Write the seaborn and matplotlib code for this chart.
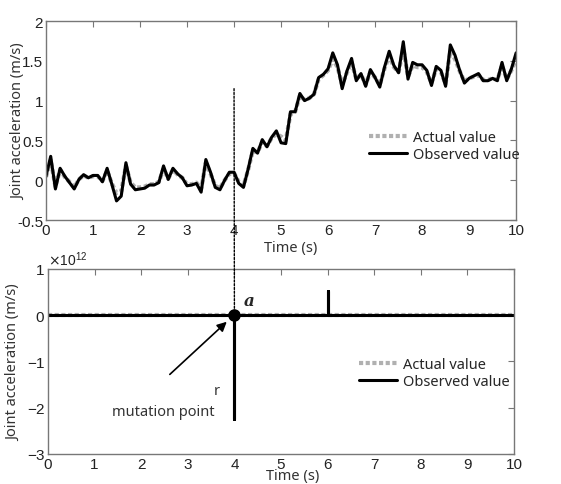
import numpy as np
import pandas as pd
import matplotlib
matplotlib.use("Agg")
import matplotlib.pyplot as plt
from matplotlib.patches import ConnectionPatch
from matplotlib.ticker import ScalarFormatter
import seaborn as sns

# temps (s), pas de 0.1 s
t = [round(0.1 * i, 1) for i in range(101)]

# valeurs observées (panneau du haut)
observed = [0.05, 0.30, -0.11, 0.15, 0.05, -0.03, -0.11, 0.01, 0.07, 0.03,
            0.06, 0.06, -0.02, 0.15, -0.05, -0.26, -0.20, 0.22, -0.05, -0.12,
            -0.11, -0.10, -0.06, -0.06, -0.03, 0.18, 0.01, 0.15, 0.08, 0.03,
            -0.07, -0.06, -0.04, -0.15, 0.26, 0.10, -0.09, -0.12, 0.00, 0.10,
            0.10, -0.04, -0.09, 0.14, 0.40, 0.34, 0.51, 0.42, 0.54, 0.62,
            0.47, 0.46, 0.86, 0.86, 1.09, 1.00, 1.03, 1.08, 1.29, 1.33,
            1.40, 1.60, 1.45, 1.15, 1.37, 1.53, 1.25, 1.34, 1.18, 1.39,
            1.29, 1.17, 1.42, 1.62, 1.44, 1.35, 1.74, 1.27, 1.48, 1.45,
            1.45, 1.38, 1.19, 1.43, 1.38, 1.18, 1.70, 1.57, 1.38, 1.22,
            1.28, 1.31, 1.34, 1.25, 1.25, 1.28, 1.25, 1.48, 1.25, 1.40,
            1.60]

# valeurs réelles (ligne grise pointillée)
actual = [0.04, 0.25, -0.08, 0.13, 0.04, -0.02, -0.09, 0.01, 0.06, 0.03,
          0.05, 0.05, -0.01, 0.12, -0.04, -0.16, -0.14, 0.18, -0.03, -0.09,
          -0.09, -0.08, -0.05, -0.05, -0.02, 0.14, 0.02, 0.13, 0.07, 0.03,
          -0.05, -0.05, -0.03, -0.11, 0.22, 0.08, -0.07, -0.10, 0.00, 0.08,
          0.09, -0.02, -0.07, 0.13, 0.37, 0.35, 0.48, 0.43, 0.53, 0.58,
          0.55, 0.50, 0.83, 0.86, 1.06, 1.01, 1.03, 1.08, 1.27, 1.32,
          1.38, 1.52, 1.42, 1.20, 1.35, 1.48, 1.27, 1.33, 1.20, 1.36,
          1.29, 1.20, 1.40, 1.56, 1.42, 1.36, 1.65, 1.30, 1.44, 1.42,
          1.42, 1.36, 1.22, 1.40, 1.36, 1.21, 1.62, 1.52, 1.37, 1.24,
          1.28, 1.30, 1.32, 1.26, 1.26, 1.28, 1.26, 1.44, 1.27, 1.38,
          1.52]

# panneau du bas : point de mutation (échelle 1e12)
t_obs2 = [0.0, 4.0, 4.0, 4.0, 6.0, 6.0, 6.0, 10.0]
observed2 = [0.0, 0.0, -2.25e12, 0.0, 0.0, 0.52e12, 0.0, 0.0]
t_act2 = [0.0, 10.0]
actual2 = [0.0, 0.0]
mutation_t, mutation_v = 4.0, 0.0

sns.set_theme(style="white")
plt.rcParams["font.family"] = ["Liberation Sans", "DejaVu Sans"]
plt.rcParams["xtick.direction"] = "in"
plt.rcParams["ytick.direction"] = "in"
plt.rcParams["axes.unicode_minus"] = False

fig = plt.figure(figsize=(5.61, 4.85), dpi=100)
ax1 = fig.add_axes([0.082, 0.5443, 0.838, 0.4103])
ax2 = fig.add_axes([0.0856, 0.0619, 0.8306, 0.3814])

lab_font = dict(family=["Noto Sans", "DejaVu Sans"], size=10.5, color="#333333")
grey = "#b0b0b0"

# ---- panneau du haut
sns.lineplot(x=t, y=actual, ax=ax1, color=grey, lw=3, ls=(0, (1, 0.6)),
             label="Actual value", estimator=None)
sns.lineplot(x=t, y=observed, ax=ax1, color="black", lw=2.2,
             label="Observed value", estimator=None)
ax1.set_xlim(0, 10)
ax1.set_ylim(-0.5, 2)
ax1.set_xticks(range(0, 11))
ax1.set_yticks([-0.5, 0, 0.5, 1, 1.5, 2])
ax1.set_yticklabels(["-0.5", "0", "0.5", "1", "1.5", "2"])
ax1.set_xlabel("Time (s)", labelpad=3, **lab_font)
ax1.xaxis.set_label_coords(0.52, -0.1)
ax1.set_ylabel("Joint acceleration (m/s)", **lab_font)
ax1.yaxis.set_label_coords(-0.042, 0.5)
ax1.legend(loc="upper left", bbox_to_anchor=(0.66, 0.52), frameon=False,
           handlelength=2.6, handletextpad=0.4, labelspacing=0.15,
           prop=dict(family="Noto Sans", size=10.5))

# ---- panneau du bas
sns.lineplot(x=t_act2, y=actual2, ax=ax2, color=grey, lw=3, ls=(0, (1, 0.6)),
             label="Actual value", estimator=None, sort=False)
sns.lineplot(x=t_obs2, y=observed2, ax=ax2, color="black", lw=2.2,
             label="Observed value", estimator=None, sort=False)
ax2.plot([mutation_t], [mutation_v], "o", color="black", ms=8, zorder=5)
ax2.set_xlim(0, 10)
ax2.set_ylim(-3e12, 1e12)
ax2.set_xticks(range(0, 11))
ax2.set_yticks([-3e12, -2e12, -1e12, 0, 1e12])
fmt = ScalarFormatter(useMathText=True)
fmt.set_powerlimits((0, 0))
ax2.yaxis.set_major_formatter(fmt)
ax2.set_xlabel("Time (s)", **lab_font)
ax2.xaxis.set_label_coords(0.524, -0.075)
ax2.set_ylabel("Joint acceleration (m/s)", **lab_font)
ax2.yaxis.set_label_coords(-0.058, 0.5)
ax2.legend(loc="upper left", bbox_to_anchor=(0.64, 0.597), frameon=False,
           handlelength=2.6, handletextpad=0.4, labelspacing=0.15,
           prop=dict(family="Noto Sans", size=10.5))

ax2.text(4.2, 0.22e12, "a", fontsize=12, fontweight="bold", style="italic",
         family="DejaVu Serif")
ax2.annotate("", xy=(3.88, -0.1e12), xytext=(2.57, -1.32e12),
             arrowprops=dict(arrowstyle="-|>", color="black", lw=1.2,
                             mutation_scale=14))
ax2.text(3.62, -1.62e12, "r", fontsize=10.5, ha="center", va="center",
         family="Noto Sans", color="#333333")
ax2.text(3.58, -2.08e12, "mutation point", fontsize=10.5, ha="right",
         va="center", family="Noto Sans", color="#333333")

for ax in (ax1, ax2):
    for s in ax.spines.values():
        s.set_color("#777777")
        s.set_linewidth(1)
    ax.tick_params(which="both", top=True, right=True, length=4, width=0.8,
                   color="#777777", labelsize=11, labelcolor="#222222", pad=2)

ax2.yaxis.get_offset_text().set_fontsize(10)

# ligne pointillée reliant les deux panneaux
con = ConnectionPatch(xyA=(4, 1.15), coordsA=ax1.transData,
                      xyB=(4, 0), coordsB=ax2.transData,
                      color="black", lw=1, ls=(0, (1.5, 1.2)))
fig.add_artist(con)

fig.savefig("out.png", dpi=100)
